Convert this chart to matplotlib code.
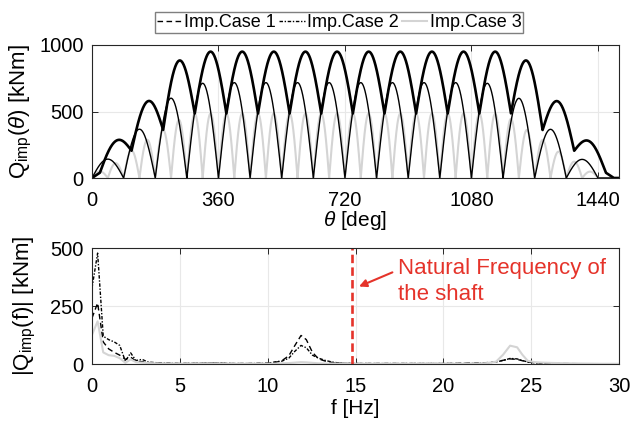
import numpy as np
import matplotlib
matplotlib.use("Agg")
import matplotlib.pyplot as plt

plt.rcParams['font.family'] = ['Liberation Sans', 'DejaVu Sans']
plt.rcParams['mathtext.fontset'] = 'custom'
plt.rcParams['mathtext.rm'] = 'Liberation Sans'
plt.rcParams['mathtext.it'] = 'Liberation Sans:italic'

# ---------------- data: top plot (per-arch values) ----------------
theta_max = 1500
# Case 3 (light gray): arches of 45 deg, peak value per arch
case3_arch_width = 45.0
case3_peaks = [50, 112, 207, 287, 362, 437, 482,
               485, 485, 485, 485, 485, 485, 485, 485, 485,
               485, 485, 485, 485, 485, 485, 485, 485, 485,
               482, 445, 361, 286, 198, 123, 48]
# thin black: arches of 90 deg, peak value per arch
thin_arch_width = 90.0
thin_peaks = [142, 367, 600, 712, 717, 717, 717, 717,
              717, 717, 717, 717, 712, 599, 366, 140]
# thick black: minima (angle, value) and peak per arch
thick_min_deg = [0, 22.5, 112.5, 202.5, 292.5, 382.5, 472.5, 562.5, 652.5, 742.5,
                 832.5, 922.5, 1012.5, 1102.5, 1192.5, 1282.5, 1372.5, 1462.5, 1485]
thick_min_val = [0, 40, 205, 362, 485, 485, 485, 485, 485, 485,
                 485, 485, 485, 485, 486, 361, 205, 40, 0]
thick_peaks = [20, 278, 575, 882, 950, 950, 950, 950, 950,
               950, 950, 950, 950, 950, 882, 574, 273, 20]

# ---------------- data: bottom plot (spectra) ----------------
freq = [0, 0.32, 0.64, 0.95, 1.27, 1.58, 1.9, 2.2, 2.5, 2.85, 3.2, 3.6, 4.0, 4.5,
        5.0, 6.0, 7.0, 8.0, 9.0, 10.0, 10.5, 10.8, 11.2, 11.55, 11.9, 12.2, 12.55,
        12.9, 13.3, 13.7, 14.2, 15, 16, 17, 18, 19, 20, 21, 22, 22.5, 23.0, 23.4,
        23.8, 24.2, 24.5, 24.8, 25.2, 25.6, 26, 27, 28, 29, 30]
spec_case1 = [198, 263, 95, 65, 50, 38, 20, 30, 12, 10, 6, 5, 3, 3,
              2, 3, 4, 2, 2, 3, 8, 14, 35, 80, 123, 105, 50,
              22, 12, 6, 3, 2, 2, 2, 2, 2, 2, 3, 4, 6, 10, 16,
              22, 20, 14, 9, 6, 4, 3, 2, 1, 1, 1]
spec_case2 = [328, 478, 120, 105, 95, 80, 12, 48, 15, 20, 8, 6, 4, 3,
              2, 3, 4, 2, 2, 3, 10, 12, 25, 55, 80, 70, 38,
              25, 15, 8, 3, 2, 2, 2, 2, 2, 2, 2, 3, 5, 9, 15,
              24, 22, 15, 9, 5, 3, 2, 1, 1, 1, 1]
spec_case3 = [126, 184, 50, 38, 35, 25, 5, 20, 8, 6, 4, 3, 2, 2,
              1, 2, 2, 1, 1, 1, 2, 3, 4, 6, 8, 7, 5,
              3, 2, 2, 1, 1, 1, 1, 1, 1, 1, 1, 2, 4, 10, 40,
              79, 72, 40, 14, 8, 6, 5, 3, 2, 1, 1]
natural_freq = 14.8

legend_labels = ['Imp.Case 1', 'Imp.Case 2', 'Imp.Case 3']
x_ticks_top = [0, 360, 720, 1080, 1440]
y_ticks_top = [0, 500, 1000]
x_ticks_bot = [0, 5, 10, 15, 20, 25, 30]
y_ticks_bot = [0, 250, 500]

# ---------------- build curves from the arch values ----------------
theta = np.arange(0, theta_max + 0.25, 0.25)


def arch_curve(th, width, peaks):
    y = np.zeros_like(th)
    for k, p in enumerate(peaks):
        a = k * width
        m = (th >= a) & (th <= a + width)
        t = (th[m] - a) / width
        y[m] = p * np.sin(np.pi * t)
    return y


def arch_curve_nodes(th, nodes, vals, peaks):
    y = np.zeros_like(th)
    for k, p in enumerate(peaks):
        a, b = nodes[k], nodes[k + 1]
        mL, mR = vals[k], vals[k + 1]
        m = (th >= a) & (th <= b)
        t = (th[m] - a) / (b - a)
        y[m] = (1 - t) * mL + t * mR + (p - 0.5 * (mL + mR)) * np.sin(np.pi * t)
    return y


q_case3 = arch_curve(theta, case3_arch_width, case3_peaks)
q_thin = arch_curve(theta, thin_arch_width, thin_peaks)
q_thick = arch_curve_nodes(theta, thick_min_deg, thick_min_val, thick_peaks)

# ---------------- figure ----------------
W, H = 632, 428
fig = plt.figure(figsize=(W / 100, H / 100), dpi=100)


def ax_rect(x0, y0, x1, y1):
    return [x0 / W, 1 - y1 / H, (x1 - x0) / W, (y1 - y0) / H]


ax1 = fig.add_axes(ax_rect(92, 45, 619, 178))
ax2 = fig.add_axes(ax_rect(92, 248, 619, 364))

gray = '#d4d4d4'
red = '#e5332a'
edge = '#262626'
fs = 14.5
fs_lab = 15
fs_ylab = 16

for ax in (ax1, ax2):
    ax.grid(True, color='#e8e8e8', lw=0.8)
    ax.set_axisbelow(True)
    for s in ax.spines.values():
        s.set_color(edge)
        s.set_linewidth(0.8)
    ax.tick_params(direction='in', top=True, right=True, length=4, width=0.7,
                   color=edge, labelsize=fs)
    ax.tick_params(axis='x', pad=9)
    ax.tick_params(axis='y', pad=6)

ax1.plot(theta, q_case3, color=gray, lw=1.5)
ax1.plot(theta, q_thin, color='black', lw=1.0)
ax1.plot(theta, q_thick, color='black', lw=1.9)
ax1.set_xlim(0, theta_max)
ax1.set_ylim(0, 1000)
ax1.set_xticks(x_ticks_top)
ax1.set_yticks(y_ticks_top)
ax1.set_xlabel(r'$\theta$ [deg]', fontsize=fs_lab)
ax1.set_ylabel(r'Q$_{\mathrm{imp}}$($\theta$) [kNm]', fontsize=fs_ylab)
ax1.yaxis.set_label_coords(-0.11, 0.5)
ax1.xaxis.set_label_coords(0.5, -0.235)

l1, = ax2.plot(freq, spec_case1, color='black', lw=1.0, ls='--', dashes=(4, 2.5))
l2, = ax2.plot(freq, spec_case2, color='black', lw=1.0, ls='-.', dashes=(2.5, 1.2, 1, 1.2))
l3, = ax2.plot(freq, spec_case3, color=gray, lw=1.5)
ax2.axvline(natural_freq, color=red, lw=1.9, dashes=(3.2, 1.6))
ax2.set_xlim(0, 30)
ax2.set_ylim(0, 500)
ax2.set_xticks(x_ticks_bot)
ax2.set_yticks(y_ticks_bot)
ax2.set_xlabel('f [Hz]', fontsize=fs_lab)
ax2.set_ylabel(r'|Q$_{\mathrm{imp}}$(f)| [kNm]', fontsize=fs_ylab)
ax2.yaxis.set_label_coords(-0.102, 0.5)
ax2.xaxis.set_label_coords(0.5, -0.30)

ax2.annotate('', xy=(15.2, 334), xytext=(17.1, 395),
             arrowprops=dict(arrowstyle='-|>', color=red, lw=1.5,
                             mutation_scale=11, shrinkA=0, shrinkB=0))
ax2.text(17.4, 357, 'Natural Frequency of\nthe shaft', color=red, fontsize=16,
         ha='left', va='center', linespacing=1.3)

fig.legend([l1, l2, l3], legend_labels, loc='center', ncol=3,
           bbox_to_anchor=(339 / W, 1 - 22.5 / H), fontsize=13,
           frameon=True, fancybox=False, edgecolor='#7f7f7f', framealpha=1,
           handlelength=1.4, handletextpad=0.12, columnspacing=0.2,
           borderpad=0.1, borderaxespad=0)

fig.savefig('out.png', dpi=100)
